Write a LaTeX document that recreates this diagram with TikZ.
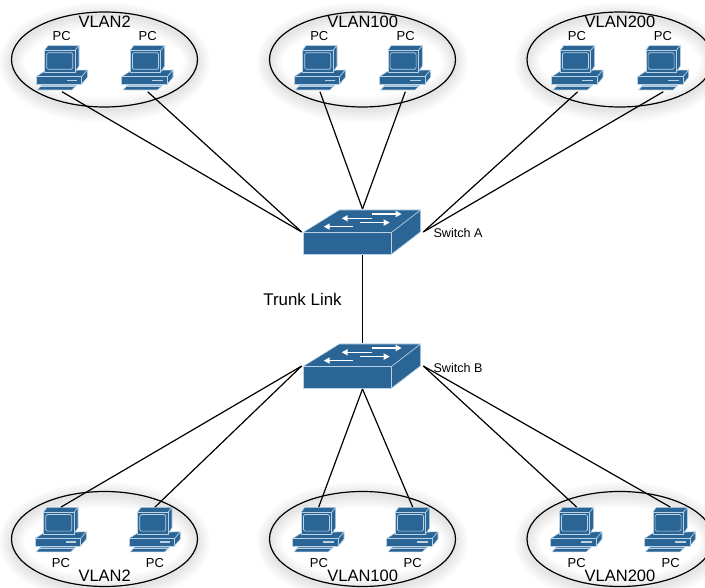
\documentclass[tikz,border=0pt]{standalone}
\usepackage{fontspec}
\setmainfont{Liberation Sans}
\usetikzlibrary{shapes.geometric,arrows.meta}
\definecolor{netblue}{HTML}{2B6596}
\definecolor{netedge}{HTML}{B9D2E6}
\tikzset{
  iconface/.style={fill=netblue,draw=netedge,line width=.55pt,line join=round},
  iconmark/.style={fill=netedge,draw=none},
  link/.style={draw=black,line width=1.2pt},
  vlanring/.style={ellipse,draw=black,line width=1.2pt,minimum width=186pt,minimum height=95pt,inner sep=0pt},
  vlanglow/.style={draw=black,opacity=.012,ellipse,minimum width=186pt,minimum height=95pt,inner sep=0pt},
  pcbox/.style={rectangle,minimum width=52pt,minimum height=46.5pt,inner sep=0pt,outer sep=0pt},
  swbox/.style={rectangle,minimum width=121.6pt,minimum height=46pt,inner sep=0pt,outer sep=0pt},
  pclabel/.style={inner sep=0pt,font=\fontsize{13}{15}\selectfont},
  vlanlabel/.style={inner sep=0pt,font=\fontsize{16.5}{18}\selectfont},
  swlabel/.style={inner sep=0pt,anchor=west,font=\fontsize{12.6}{14}\selectfont},
  flow/.style={draw=white,line width=1.5pt,-{Triangle[length=6pt,width=6pt]}}
}
% vlan ellipse with soft shadow: name, x, y
\newcommand{\vlanzone}[3]{%
  \foreach \g in {2,5,8,11,14,17,20,23,26}{%
    \node[vlanglow,line width=\g pt] at (#2,#3+3) {};}
  \node[vlanring] (#1) at (#2,#3) {};
}
% computer: name, x of base left, y of monitor top
\newcommand{\pcicon}[3]{%
  \node[pcbox] (#1) at (#2+26,#3+23) {};
  \begin{scope}[shift={(#2,#3)}]
    \path[iconface] (0,31.2) -- (9,25.5) -- (51.3,24.5) -- (45.7,31.2) -- cycle;
    \path[iconface] (45.7,31.2) -- (51.3,24.5) -- (51.3,31.8) -- (45.7,38.5) -- cycle;
    \path[iconface] (0,31.2) rectangle (45.7,38.5);
    \path[iconmark] (30.7,34.1) rectangle (41.3,36);
    \path[iconface] (5.7,39.8) -- (40.7,39.8) -- (35.7,44.5) -- (1.3,44.5) -- cycle;
    \draw[netedge,line width=.6pt] (4.4,41.2) -- (39.2,41.2);
    \path[iconface] (8.5,5) -- (12,0) -- (43,0) -- (39,5) -- cycle;
    \path[iconface] (39,5) -- (43,0) -- (43,20.5) -- (39,26.5) -- cycle;
    \path[iconface] (8.5,5) rectangle (39,26.5);
    \draw[netedge,line width=.7pt,rounded corners=1.5pt] (10.8,7.2) rectangle (36.8,23.8);
  \end{scope}
}
% switch: name, x and y of centre
\newcommand{\swicon}[3]{%
  \node[swbox] (#1) at (#2,#3) {};
  \begin{scope}[shift={(#2-59.2,#3+0.3)}]
    \path[iconface] (0,0) -- (36,-22.3) -- (117.4,-22.3) -- (88.4,0) -- cycle;
    \path[iconface] (88.4,0) -- (117.4,-22.3) -- (117.4,-0.6) -- (88.4,21.7) -- cycle;
    \path[iconface] (0,0) rectangle (88.4,21.7);
    \draw[flow] (68.4,-18.3) -- (98.4,-18.3);
    \draw[flow] (68.4,-14) -- (38.4,-14);
    \draw[flow] (56.4,-9.7) -- (86.4,-9.7);
    \draw[flow] (50,-5.7) -- (20.4,-5.7);
  \end{scope}
}
\begin{document}
\begin{tikzpicture}[x=1pt,y=-1pt]
\useasboundingbox (0,0) rectangle (705,588);
\fill[white] (0,0) rectangle (705,588);
\vlanzone{zta}{104.5}{59.5}
\vlanzone{ztb}{362.5}{59.5}
\vlanzone{ztc}{620}{59.5}
\vlanzone{zba}{104.5}{539}
\vlanzone{zbb}{362.5}{539}
\vlanzone{zbc}{620}{539}
\pcicon{pa}{36}{45.5}
\pcicon{pb}{121.7}{45.5}
\pcicon{pc}{294}{45.5}
\pcicon{pd}{379.3}{45.5}
\pcicon{pe}{551.7}{45.5}
\pcicon{pf}{637.3}{45.5}
\pcicon{qa}{35}{507.3}
\pcicon{qb}{129}{507.3}
\pcicon{qc}{292.7}{507.3}
\pcicon{qd}{386.7}{507.3}
\pcicon{qe}{550.7}{507.3}
\pcicon{qf}{644.3}{507.3}
\swicon{swa}{362.5}{232}
\swicon{swb}{362.5}{366}
\draw[link] (pa.south) -- (swa.west);
\draw[link] (pb.south) -- (swa.west);
\draw[link] (pc.south) -- (swa.north);
\draw[link] (pd.south) -- (swa.north);
\draw[link] (pe.south) -- (swa.east);
\draw[link] (pf.south) -- (swa.east);
\draw[link] (swa.south) -- (swb.north);
\draw[link] (qa.north) -- (swb.west);
\draw[link] (qb.north) -- (swb.west);
\draw[link] (qc.north) -- (swb.south);
\draw[link] (qd.north) -- (swb.south);
\draw[link] (qe.north) -- (swb.east);
\draw[link] (qf.north) -- (swb.east);
\node[vlanlabel] (ta) at (104.7,21.7) {VLAN2};
\node[vlanlabel] (tb) at (362.7,21.7) {VLAN100};
\node[vlanlabel] (tc) at (620,21.7) {VLAN200};
\node[vlanlabel] (ba) at (104.7,575.5) {VLAN2};
\node[vlanlabel] (bb) at (362.7,575.5) {VLAN100};
\node[vlanlabel] (bc) at (620,575.5) {VLAN200};
\node[pclabel] (la) at (61.7,36) {PC};
\node[pclabel] (lb) at (147.7,36) {PC};
\node[pclabel] (lc) at (319.3,36) {PC};
\node[pclabel] (ld) at (405.7,36) {PC};
\node[pclabel] (le) at (577,36) {PC};
\node[pclabel] (lf) at (663,36) {PC};
\node[pclabel] (ma) at (61,563.5) {PC};
\node[pclabel] (mb) at (155,563.5) {PC};
\node[pclabel] (mc) at (319,563.5) {PC};
\node[pclabel] (md) at (412.7,563.5) {PC};
\node[pclabel] (me) at (576.7,563.5) {PC};
\node[pclabel] (mf) at (670.7,563.5) {PC};
\node[swlabel] (sa) at (433.3,232.5) {Switch A};
\node[swlabel] (sb) at (433.3,367.5) {Switch B};
\node[inner sep=0pt,font=\fontsize{16.9}{19}\selectfont] (tl) at (302.5,299) {Trunk Link};
\end{tikzpicture}
\end{document}
